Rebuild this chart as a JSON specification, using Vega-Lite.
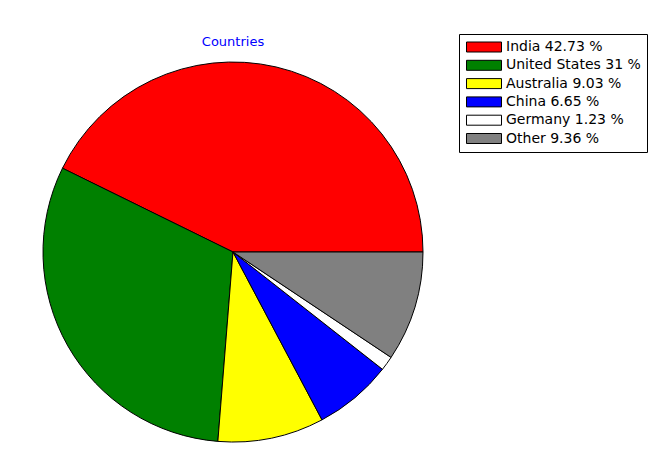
{
  "$schema": "https://vega.github.io/schema/vega-lite/v6.json",
  "width": 466,
  "height": 380,
  "autosize": "none",
  "padding": {"left": 0, "top": 62, "right": 187, "bottom": 18},
  "background": "white",
  "title": {"text": "Countries", "color": "#0000ff", "font": "DejaVu Sans", "fontSize": 13, "fontWeight": "normal", "offset": -15},
  "data": {"values": [
    {"country": "India", "label": "India 42.73 %", "share": 42.73, "rank": 1},
    {"country": "United States", "label": "United States 31 %", "share": 31, "rank": 2},
    {"country": "Australia", "label": "Australia 9.03 %", "share": 9.03, "rank": 3},
    {"country": "China", "label": "China 6.65 %", "share": 6.65, "rank": 4},
    {"country": "Germany", "label": "Germany 1.23 %", "share": 1.23, "rank": 5},
    {"country": "Other", "label": "Other 9.36 %", "share": 9.36, "rank": 6}
  ]},
  "mark": {"type": "arc", "stroke": "black", "strokeWidth": 1},
  "encoding": {
    "theta": {"field": "share", "type": "quantitative", "stack": true, "scale": {"range": [1.5708, 7.854]}},
    "order": {"field": "rank", "sort": "descending"},
    "color": {
      "field": "label",
      "type": "nominal",
      "scale": {
        "domain": ["India 42.73 %", "United States 31 %", "Australia 9.03 %", "China 6.65 %", "Germany 1.23 %", "Other 9.36 %"],
        "range": ["#ff0000", "#008000", "#ffff00", "#0000ff", "#ffffff", "#808080"]
      },
      "legend": {
        "orient": "none",
        "legendX": 459,
        "legendY": -28,
        "title": null,
        "symbolType": "M-3.5,-1H3.5V1H-3.5Z",
        "symbolSize": 100,
        "symbolOffset": 12,
        "symbolStrokeColor": "black",
        "symbolStrokeWidth": 1,
        "symbolOpacity": 1,
        "labelFont": "DejaVu Sans",
        "labelFontSize": 14,
        "labelColor": "black",
        "labelOffset": 15,
        "labelLimit": 300,
        "strokeColor": "black",
        "fillColor": "white",
        "padding": 6,
        "rowPadding": 4.3
      }
    }
  },
  "config": {"view": {"stroke": null}}
}
